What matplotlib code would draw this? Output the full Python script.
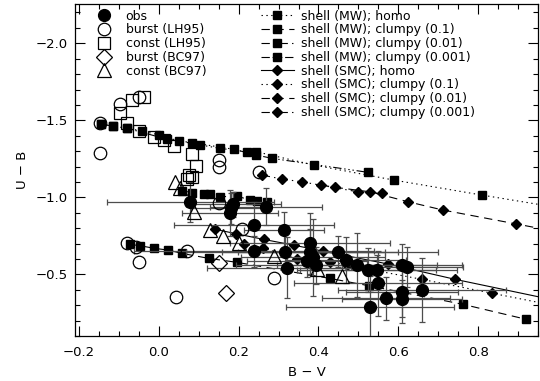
import matplotlib
matplotlib.use("Agg")
import matplotlib.pyplot as plt
from matplotlib.ticker import MultipleLocator, FuncFormatter

plt.rcParams["font.family"] = ["DejaVu Sans"]
plt.rcParams["lines.scale_dashes"] = False

# ---- observed galaxies: B-V, U-B and their errors ----
obs_bv = [0.079, 0.187, 0.181, 0.179, 0.269, 0.239, 0.314, 0.379, 0.239, 0.317,
          0.320, 0.379, 0.387, 0.372, 0.394, 0.449, 0.469, 0.496, 0.524, 0.547,
          0.609, 0.621, 0.549, 0.529, 0.569, 0.609, 0.609, 0.659]
obs_ub = [-0.971, -0.955, -0.930, -0.898, -0.939, -0.823, -0.788, -0.701, -0.651, -0.647,
          -0.544, -0.645, -0.612, -0.586, -0.560, -0.647, -0.593, -0.560, -0.528, -0.528,
          -0.560, -0.545, -0.443, -0.291, -0.346, -0.385, -0.343, -0.398]
obs_bv_err = [0.21, 0.12, 0.10, 0.12, 0.14, 0.20, 0.10, 0.20, 0.30, 0.25,
              0.20, 0.22, 0.18, 0.15, 0.20, 0.25, 0.15, 0.20, 0.17, 0.20,
              0.15, 0.14, 0.21, 0.21, 0.16, 0.14, 0.15, 0.21]
obs_ub_err = [0.13, 0.08, 0.10, 0.15, 0.12, 0.15, 0.12, 0.20, 0.10, 0.12,
              0.20, 0.15, 0.25, 0.10, 0.12, 0.10, 0.15, 0.21, 0.14, 0.10,
              0.14, 0.13, 0.21, 0.20, 0.14, 0.20, 0.12, 0.21]

# ---- evolutionary synthesis models ----
burst_lh95_bv = [-0.1475, -0.1475, -0.0975, -0.050, 0.150, 0.150, 0.250, 0.150,
                 0.2085, 0.071, 0.289, -0.079, -0.058, -0.050, 0.042]
burst_lh95_ub = [-1.481, -1.290, -1.604, -1.653, -1.242, -1.199, -1.163, -0.961,
                 -0.792, -0.653, -0.474, -0.705, -0.675, -0.582, -0.355]

const_lh95_bv = [-0.098, -0.068, -0.036, -0.079, -0.050, -0.0125, 0.0125, 0.039,
                 0.0835, 0.092, 0.075, 0.083, 0.071]
const_lh95_ub = [-1.545, -1.633, -1.653, -1.481, -1.432, -1.394, -1.372, -1.333,
                 -1.280, -1.203, -1.145, -1.135, -1.117]

burst_bc97_bv = [0.150, 0.169]
burst_bc97_ub = [-0.571, -0.381]

const_bc97_bv = [0.0417, 0.054, 0.0875, 0.129, 0.160, 0.200, 0.289, 0.397, 0.4595]
const_bc97_ub = [-1.101, -1.060, -0.906, -0.788, -0.749, -0.705, -0.620, -0.535, -0.490]

# ---- dusty shell models, MW extinction ----
mw_homo_bv = [-0.144, -0.115, -0.079, -0.042, 0.000, 0.050, 0.104, 0.153, 0.221,
              0.244, 0.388, 0.589, 0.809, 1.02]
mw_homo_ub = [-1.474, -1.463, -1.448, -1.431, -1.405, -1.366, -1.340, -1.318, -1.296,
              -1.296, -1.210, -1.112, -1.015, -0.925]
mw_c1_bv = [-0.073, -0.047, -0.011, 0.0225, 0.0585, 0.125, 0.196, 0.428, 0.527,
            0.763, 0.921]
mw_c1_ub = [-0.695, -0.686, -0.669, -0.658, -0.636, -0.604, -0.578, -0.474, -0.426,
            -0.305, -0.208]
mw_c01_bv = [0.0585, 0.0835, 0.1125, 0.129, 0.154, 0.196, 0.229, 0.246, 0.270]
mw_c01_ub = [-1.043, -1.030, -1.021, -1.019, -1.004, -1.008, -0.982, -0.976, -0.970]
mw_c001_bv = [-0.144, -0.115, -0.079, 0.021, 0.0835, 0.1875, 0.244, 0.2835, 0.525]
mw_c001_ub = [-1.474, -1.463, -1.448, -1.377, -1.355, -1.312, -1.275, -1.253, -1.162]

# ---- dusty shell models, SMC extinction ----
smc_homo_bv = [0.142, 0.1935, 0.2625, 0.3375, 0.4125, 0.575, 0.742, 1.00]
smc_homo_ub = [-0.792, -0.764, -0.727, -0.690, -0.650, -0.567, -0.468, -0.328]
smc_c1_bv = [0.2125, 0.261, 0.3465, 0.429, 0.471, 0.6585, 0.836, 1.00]
smc_c1_ub = [-0.699, -0.672, -0.600, -0.582, -0.560, -0.468, -0.377, -0.293]
smc_c01_bv = [0.406, 0.442, 0.529, 0.625, 0.711, 0.896, 1.00]
smc_c01_ub = [-1.080, -1.065, -1.036, -0.971, -0.918, -0.827, -0.776]
smc_c001_bv = [0.258, 0.308, 0.358, 0.4985, 0.559]
smc_c001_ub = [-1.145, -1.119, -1.101, -1.036, -1.026]

DOT = (0, (1, 2.5))
DASH = (0, (6, 4))
DASHDOT = (0, (6, 3, 1, 3))
DASHDOT3 = (0, (6, 2, 1, 2, 1, 2, 1, 2))

fig = plt.figure(figsize=(5.4, 3.81), dpi=100)
ax = fig.add_axes([75 / 540, 1 - 336 / 381, (538 - 75) / 540, (336 - 4) / 381])

lw = 0.8
sq = dict(marker="s", ms=5.5, mfc="k", mec="k", color="k", lw=lw)
dm = dict(marker="D", ms=5.0, mfc="k", mec="k", color="k", lw=lw)

h_mw = [
    ax.plot(mw_homo_bv, mw_homo_ub, ls=DOT, label="shell (MW); homo", **sq)[0],
    ax.plot(mw_c1_bv, mw_c1_ub, ls=DASH, label="shell (MW); clumpy (0.1)", **sq)[0],
    ax.plot(mw_c01_bv, mw_c01_ub, ls=DASHDOT, label="shell (MW); clumpy (0.01)", **sq)[0],
    ax.plot(mw_c001_bv, mw_c001_ub, ls=DASHDOT3, label="shell (MW); clumpy (0.001)", **sq)[0],
]
h_smc = [
    ax.plot(smc_homo_bv, smc_homo_ub, ls="-", label="shell (SMC); homo", **dm)[0],
    ax.plot(smc_c1_bv, smc_c1_ub, ls=DOT, label="shell (SMC); clumpy (0.1)", **dm)[0],
    ax.plot(smc_c01_bv, smc_c01_ub, ls=DASH, label="shell (SMC); clumpy (0.01)", **dm)[0],
    ax.plot(smc_c001_bv, smc_c001_ub, ls=DASHDOT, label="shell (SMC); clumpy (0.001)", **dm)[0],
]

ax.errorbar(obs_bv, obs_ub, xerr=obs_bv_err, yerr=obs_ub_err, fmt="none",
            ecolor="0.3", elinewidth=0.9, capsize=2.5, capthick=0.9, zorder=3)
h_obs = ax.plot(obs_bv, obs_ub, "o", ms=8.5, mfc="k", mec="k", ls="none",
                label="obs", zorder=4)[0]

op = dict(ls="none", mfc="none", mec="k", mew=0.9, zorder=5)
h_b1 = ax.plot(burst_lh95_bv, burst_lh95_ub, "o", ms=9, label="burst (LH95)", **op)[0]
h_c1 = ax.plot(const_lh95_bv, const_lh95_ub, "s", ms=8.5, label="const (LH95)", **op)[0]
h_b2 = ax.plot(burst_bc97_bv, burst_bc97_ub, "D", ms=8.5, label="burst (BC97)", **op)[0]
h_c2 = ax.plot(const_bc97_bv, const_bc97_ub, "^", ms=10, label="const (BC97)", **op)[0]

ax.set_xlim(-0.21, 0.95)
ax.set_ylim(-0.1, -2.255)

fmt = FuncFormatter(lambda v, p: ("%.1f" % v).replace("-", "\u2212"))
ax.xaxis.set_major_locator(MultipleLocator(0.2))
ax.xaxis.set_minor_locator(MultipleLocator(0.05))
ax.yaxis.set_major_locator(MultipleLocator(0.5))
ax.yaxis.set_minor_locator(MultipleLocator(0.1))
ax.xaxis.set_major_formatter(fmt)
ax.yaxis.set_major_formatter(fmt)
ax.tick_params(which="both", direction="in", top=True, right=True, width=0.8,
               labelsize=9.5)
ax.tick_params(which="major", length=7)
ax.tick_params(which="minor", length=3.5)
ax.tick_params(axis="x", pad=7)
ax.tick_params(axis="y", pad=5)
for s in ax.spines.values():
    s.set_linewidth(0.9)

ax.set_xlabel("B \u2212 V", fontsize=9.5, labelpad=5)
ax.set_ylabel("U \u2212 B", fontsize=9.5, labelpad=5)

leg1 = ax.legend(handles=[h_obs, h_b1, h_c1, h_b2, h_c2], loc="upper left",
                 bbox_to_anchor=(0.035, 1.0), frameon=False, fontsize=9,
                 handlelength=1.2, handletextpad=1.1, labelspacing=0.06,
                 borderpad=0.45, borderaxespad=0)
ax.add_artist(leg1)
ax.legend(handles=h_mw + h_smc, loc="upper left", bbox_to_anchor=(0.39, 1.0),
          frameon=False, fontsize=9, handlelength=2.6, handletextpad=0.6,
          labelspacing=0.06, borderpad=0.45, borderaxespad=0, numpoints=1)

fig.savefig("out.png", dpi=100)
